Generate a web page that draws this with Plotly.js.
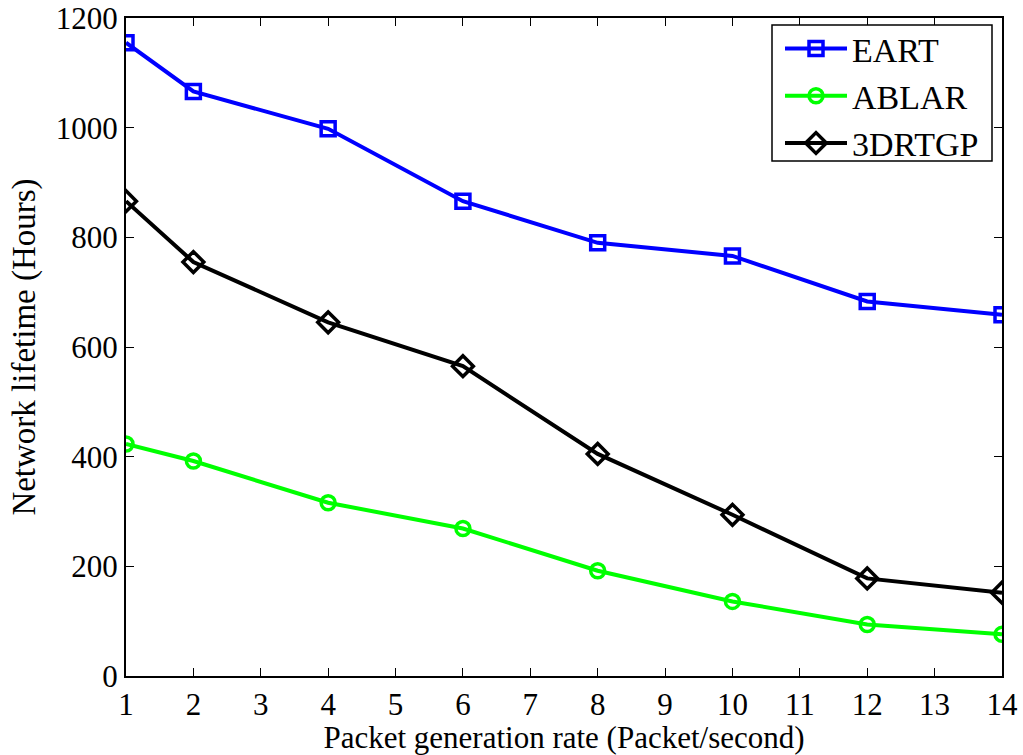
<!DOCTYPE html>
<html><head><meta charset="utf-8">
<script src="https://cdn.plot.ly/plotly-3.0.1.min.js"></script>
<style>html,body{margin:0;padding:0;background:#fff}#chart{width:1023px;height:755px}</style>
</head><body><div id="chart"></div>
<script>
const xRates = [1, 2, 4, 6, 8, 10, 12, 14];
const eart = [1155, 1066, 998, 866, 790, 766, 683, 659];
const ablar = [423, 392, 316, 269, 192, 136, 94, 76];
const drtgp = [866, 755, 645, 565, 405, 294, 178, 152];
const xTicks = [1,2,3,4,5,6,7,8,9,10,11,12,13,14];
const yTicks = [0,200,400,600,800,1000,1200];

const font = {family: 'Liberation Serif, Times New Roman, serif', color: '#000'};
function tr(name, y, color, symbol){
  return {x: xRates, y: y, name: name, type: 'scatter', mode: 'lines+markers',
    line: {color: color, width: 4},
    marker: {symbol: symbol, size: symbol === 'diamond-open' ? 16 : 14, color: color, line: {color: color, width: 3.5}}};
}
const data = [
  tr('EART', eart, '#0000ff', 'square-open'),
  tr('ABLAR', ablar, '#00ff00', 'circle-open'),
  tr('3DRTGP', drtgp, '#000000', 'diamond-open')
];
const M = {l: 126, r: 21, t: 18, b: 79};
const PW = 1023 - M.l - M.r, PH = 755 - M.t - M.b, PL = M.l, PB = 755 - M.b;
const px = v => (v - PL) / PW, py = v => (PB - v) / PH;
const layout = {
  width: 1023, height: 755,
  margin: M,
  paper_bgcolor: '#fff', plot_bgcolor: '#fff',
  font: Object.assign({size: 30}, font),
  showlegend: true,
  legend: {x: px(780), y: py(20), xanchor: 'left', yanchor: 'top',
    borderwidth: 0, bgcolor: 'rgba(0,0,0,0)', itemwidth: 62,
    font: Object.assign({size: 34}, font), tracegroupgap: 0},
  shapes: [{type: 'rect', xref: 'paper', yref: 'paper', x0: px(772), x1: px(992), y0: py(161), y1: py(25),
    line: {color: '#000', width: 1.5}, fillcolor: '#fff', layer: 'above'}],
  xaxis: {range: [1, 14], tickvals: xTicks, ticktext: xTicks.map(String),
    ticks: 'inside', ticklen: 8, tickcolor: '#000', tickwidth: 1,
    showline: true, linecolor: '#000', linewidth: 2, mirror: 'ticks',
    showgrid: false, zeroline: false,
    tickfont: Object.assign({size: 31}, font),
    title: {text: 'Packet generation rate (Packet/second)', font: Object.assign({size: 31}, font), standoff: 3}},
  yaxis: {range: [0, 1200], tickvals: yTicks, ticktext: yTicks.map(String),
    ticks: 'inside', ticklen: 8, tickcolor: '#000', tickwidth: 1,
    showline: true, linecolor: '#000', linewidth: 2, mirror: 'ticks',
    showgrid: false, zeroline: false,
    tickfont: Object.assign({size: 31}, font),
    title: {text: 'Network lifetime (Hours)', font: Object.assign({size: 33}, font), standoff: 10}}
};
Plotly.newPlot('chart', data, layout, {displayModeBar: false});
</script></body></html>
